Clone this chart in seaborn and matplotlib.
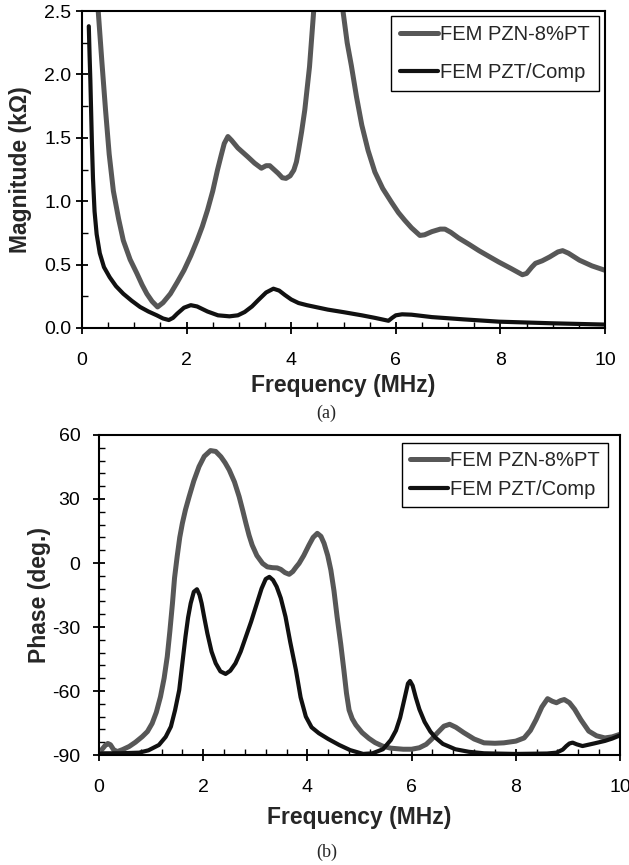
import numpy as np
import pandas as pd
import matplotlib
matplotlib.use("Agg")
import matplotlib.pyplot as plt
from matplotlib.ticker import MultipleLocator, FormatStrFormatter
import seaborn as sns

# ---------------- data: (a) impedance magnitude (kOhm) ----------------
mag_pzn_freq = [0.22, 0.31, 0.38, 0.45, 0.52, 0.60, 0.70, 0.79, 0.92, 1.05, 1.15, 1.24,
                1.34, 1.445, 1.55, 1.69, 1.82, 1.95, 2.08, 2.20, 2.30, 2.40, 2.50, 2.59,
                2.66, 2.72, 2.79, 2.86, 2.98, 3.17, 3.30, 3.43, 3.52, 3.59, 3.67, 3.75,
                3.83, 3.90, 3.98, 4.05, 4.10, 4.14, 4.20, 4.26, 4.35, 4.43, 4.60, 4.75,
                4.90, 4.99, 5.07, 5.15, 5.25, 5.35, 5.47, 5.60, 5.75, 5.92, 6.05, 6.17,
                6.30, 6.46, 6.55, 6.69, 6.85, 6.94, 7.05, 7.20, 7.40, 7.59, 7.80, 7.97,
                8.20, 8.42, 8.50, 8.60, 8.67, 8.80, 8.94, 9.10, 9.19, 9.30, 9.51, 9.75, 10.0]
mag_pzn = [3.40, 2.50, 2.10, 1.72, 1.37, 1.08, 0.86, 0.69, 0.54, 0.43, 0.34, 0.27,
           0.21, 0.166, 0.20, 0.27, 0.36, 0.455, 0.57, 0.69, 0.80, 0.93, 1.08, 1.245,
           1.36, 1.455, 1.51, 1.48, 1.42, 1.35, 1.30, 1.26, 1.28, 1.28, 1.25, 1.22,
           1.185, 1.18, 1.20, 1.245, 1.31, 1.40, 1.55, 1.72, 2.06, 2.50, 4.50, 8.00,
           3.60, 2.50, 2.25, 2.07, 1.82, 1.60, 1.40, 1.23, 1.10, 0.99, 0.91, 0.85,
           0.79, 0.73, 0.735, 0.76, 0.78, 0.78, 0.755, 0.71, 0.66, 0.61, 0.56, 0.52,
           0.47, 0.42, 0.43, 0.48, 0.51, 0.53, 0.56, 0.60, 0.61, 0.59, 0.535, 0.49, 0.455]

mag_pzt_freq = [0.13, 0.145, 0.16, 0.175, 0.19, 0.21, 0.24, 0.28, 0.34, 0.42, 0.53, 0.65,
                0.79, 0.95, 1.11, 1.27, 1.43, 1.55, 1.66, 1.74, 1.82, 1.95, 2.08, 2.20,
                2.40, 2.60, 2.82, 2.98, 3.11, 3.25, 3.37, 3.52, 3.66, 3.77, 3.88, 4.00,
                4.14, 4.30, 4.46, 4.70, 5.00, 5.35, 5.60, 5.86, 5.93, 6.00, 6.12, 6.30,
                6.69, 7.30, 7.97, 9.00, 10.0]
mag_pzt = [2.38, 2.15, 1.95, 1.70, 1.45, 1.18, 0.92, 0.74, 0.59, 0.48, 0.40, 0.33,
           0.27, 0.215, 0.166, 0.13, 0.10, 0.075, 0.063, 0.08, 0.113, 0.16, 0.18, 0.17,
           0.13, 0.10, 0.092, 0.10, 0.126, 0.17, 0.22, 0.28, 0.31, 0.295, 0.26, 0.225,
           0.197, 0.18, 0.166, 0.145, 0.125, 0.10, 0.08, 0.057, 0.08, 0.10, 0.108, 0.105,
           0.086, 0.068, 0.05, 0.037, 0.027]

# ---------------- data: (b) phase (deg.) ----------------
ph_pzn_freq = [0.06, 0.12, 0.17, 0.22, 0.28, 0.35, 0.45, 0.58, 0.70, 0.83, 0.93, 1.02,
               1.10, 1.18, 1.25, 1.31, 1.36, 1.41, 1.45, 1.50, 1.55, 1.60, 1.66, 1.73,
               1.82, 1.92, 2.02, 2.14, 2.24, 2.34, 2.42, 2.50, 2.60, 2.69, 2.76, 2.82,
               2.88, 2.94, 3.03, 3.14, 3.23, 3.33, 3.42, 3.49, 3.57, 3.65, 3.72, 3.78,
               3.84, 3.93, 4.03, 4.11, 4.19, 4.26, 4.32, 4.39, 4.45, 4.51, 4.57, 4.64,
               4.70, 4.75, 4.80, 4.86, 4.93, 5.05, 5.18, 5.30, 5.44, 5.60, 5.84, 6.00,
               6.15, 6.28, 6.38, 6.50, 6.62, 6.73, 6.85, 7.00, 7.20, 7.39, 7.60, 7.77,
               8.00, 8.16, 8.28, 8.39, 8.50, 8.61, 8.70, 8.78, 8.86, 8.93, 9.03, 9.13,
               9.25, 9.40, 9.55, 9.71, 9.85, 10.0]
ph_pzn = [-87.3, -85.5, -84.6, -85.2, -87.5, -88.4, -87.5, -86.0, -84.0, -81.4, -79.0, -75.2,
          -70.0, -62.7, -54.0, -43.9, -32.0, -18.9, -7.0, 3.0, 12.0, 18.6, 25.0, 31.1,
          38.5, 45.2, 50.0, 52.7, 52.3, 49.8, 47.0, 43.6, 38.0, 31.1, 24.5, 18.6,
          13.0, 8.4, 3.5, -0.2, -1.8, -2.2, -2.3, -3.0, -4.5, -5.3, -4.0, -2.0,
          -0.2, 3.5, 8.4, 12.0, 13.9, 12.5, 9.2, 3.5, -3.3, -13.0, -25.2, -38.0,
          -50.2, -61.0, -68.9, -73.0, -75.9, -79.5, -82.2, -84.2, -85.8, -86.8, -87.3, -87.3,
          -86.6, -85.0, -82.7, -79.5, -76.5, -75.6, -77.0, -79.5, -82.5, -84.3, -84.5, -84.3,
          -83.5, -82.0, -78.5, -73.4, -67.5, -63.6, -64.8, -65.5, -64.5, -64.0, -65.5, -68.6,
          -73.5, -78.8, -81.0, -82.0, -81.5, -80.3]

ph_pzt_freq = [0.0, 0.40, 0.77, 0.95, 1.15, 1.28, 1.38, 1.46, 1.54, 1.60, 1.66, 1.71,
               1.76, 1.82, 1.88, 1.93, 1.97, 2.02, 2.08, 2.16, 2.24, 2.33, 2.43, 2.52,
               2.62, 2.72, 2.82, 2.92, 3.01, 3.12, 3.20, 3.27, 3.34, 3.41, 3.49, 3.58,
               3.67, 3.78, 3.87, 3.97, 4.08, 4.22, 4.40, 4.61, 4.82, 5.07, 5.25, 5.45,
               5.60, 5.70, 5.78, 5.86, 5.93, 5.97, 6.02, 6.08, 6.15, 6.25, 6.36, 6.46,
               6.60, 6.84, 7.10, 7.39, 8.00, 8.60, 8.78, 8.90, 8.97, 9.03, 9.09, 9.17,
               9.28, 9.50, 9.71, 9.85, 10.0]
ph_pzt = [-89.2, -89.2, -88.9, -87.8, -85.3, -81.5, -76.7, -69.0, -59.5, -47.0, -34.5, -25.5,
          -18.9, -13.5, -12.3, -15.0, -18.9, -25.5, -33.0, -41.5, -47.0, -50.8, -52.0, -50.5,
          -47.0, -41.5, -34.5, -27.5, -20.5, -12.0, -7.5, -6.5, -8.0, -11.1, -16.5, -25.2,
          -37.0, -50.2, -63.0, -72.0, -77.0, -79.8, -82.5, -85.3, -87.7, -89.5, -89.2, -87.3,
          -83.0, -78.5, -72.5, -64.0, -56.5, -55.3, -57.5, -63.0, -68.6, -74.5, -79.0, -81.9,
          -84.8, -87.3, -88.5, -89.2, -89.5, -89.3, -88.9, -87.5, -85.8, -84.6, -84.2, -85.0,
          -85.8, -84.6, -83.4, -82.3, -80.8]

label_pzn = "FEM PZN-8%PT"
label_pzt = "FEM PZT/Comp"

# ---------------- style ----------------
sns.set_theme(style="ticks")
plt.rcParams["font.family"] = ["Liberation Sans", "DejaVu Sans"]
plt.rcParams["axes.linewidth"] = 1.5
plt.rcParams["axes.edgecolor"] = "black"
plt.rcParams["axes.unicode_minus"] = False
plt.rcParams["lines.solid_joinstyle"] = "round"
plt.rcParams["lines.solid_capstyle"] = "round"

GRAY = "#575757"
BLACK = "#111111"

W, H = 629, 865
fig = plt.figure(figsize=(W / 100, H / 100), dpi=100)
fig.patch.set_facecolor("white")

def px_axes(l, t, r, b):
    return fig.add_axes([l / W, 1 - b / H, (r - l) / W, (b - t) / H])

ax1 = px_axes(82, 11, 605, 328)
ax2 = px_axes(99, 435, 620, 755)

def style_axis(ax, xminor, ymin_step, ylabpad):
    for s in ax.spines.values():
        s.set_visible(True)
        s.set_color("black")
        s.set_linewidth(1.5)
    ax.xaxis.set_major_locator(MultipleLocator(2))
    ax.xaxis.set_minor_locator(MultipleLocator(xminor))
    ax.yaxis.set_minor_locator(MultipleLocator(ymin_step))
    ax.tick_params(which="major", direction="inout", length=9, width=1.3,
                   colors="black", labelsize=14, top=False, right=False)
    ax.tick_params(axis="x", which="major", pad=13)
    ax.tick_params(axis="y", which="major", pad=ylabpad)
    ax.tick_params(which="minor", direction="in", length=4, width=1.0,
                   colors="black", top=False, right=False)
    ax.set_facecolor("white")
    ax.grid(False)

# ---------------- (a) ----------------
sns.lineplot(x=mag_pzn_freq, y=mag_pzn, ax=ax1, color=GRAY, linewidth=3.6,
             label=label_pzn, sort=False, estimator=None)
sns.lineplot(x=mag_pzt_freq, y=mag_pzt, ax=ax1, color=BLACK, linewidth=3.0,
             label=label_pzt, sort=False, estimator=None)
ax1.set_xlim(0, 10)
ax1.set_ylim(0, 2.5)
ax1.yaxis.set_major_locator(MultipleLocator(0.5))
ax1.yaxis.set_major_formatter(FormatStrFormatter("%.1f"))
style_axis(ax1, 0.5, 0.25, 3)
ax1.set_xlabel("Frequency (MHz)", fontsize=16.5, fontweight="bold")
ax1.set_ylabel("Magnitude (k\u03a9)", fontsize=16.5, fontweight="bold")
ax1.xaxis.label.set_va("center")
ax1.yaxis.label.set_va("center")
ax1.xaxis.set_label_coords(0.5, -0.18)
ax1.yaxis.set_label_coords(-0.118, 0.5)
leg1 = ax1.legend(loc="upper right", bbox_to_anchor=(0.9885, 0.984), borderaxespad=0,
                  fontsize=14.5, frameon=True, fancybox=False, edgecolor="black",
                  framealpha=1, handlelength=1.9, handletextpad=0.1,
                  labelspacing=0.95, borderpad=0.45)
leg1.get_frame().set_linewidth(1.0)

# ---------------- (b) ----------------
sns.lineplot(x=ph_pzn_freq, y=ph_pzn, ax=ax2, color=GRAY, linewidth=3.6,
             label=label_pzn, sort=False, estimator=None)
sns.lineplot(x=ph_pzt_freq, y=ph_pzt, ax=ax2, color=BLACK, linewidth=3.0,
             label=label_pzt, sort=False, estimator=None)
ax2.set_xlim(0, 10)
ax2.set_ylim(-90, 60)
ax2.yaxis.set_major_locator(MultipleLocator(30))
style_axis(ax2, 0.4, 6, 9)
ax2.set_xlabel("Frequency (MHz)", fontsize=16.5, fontweight="bold")
ax2.set_ylabel("Phase (deg.)", fontsize=16.5, fontweight="bold")
ax2.xaxis.label.set_va("center")
ax2.yaxis.label.set_va("center")
ax2.xaxis.set_label_coords(0.5, -0.194)
ax2.yaxis.set_label_coords(-0.115, 0.5)
leg2 = ax2.legend(loc="upper right", bbox_to_anchor=(0.977, 0.975), borderaxespad=0,
                  fontsize=14.5, frameon=True, fancybox=False, edgecolor="black",
                  framealpha=1, handlelength=1.9, handletextpad=0.1,
                  labelspacing=0.5, borderpad=0.4)
leg2.get_frame().set_linewidth(1.0)

# captions
fig.text(326 / W, 1 - 413 / H, "(a)", ha="center", va="center", fontsize=13,
         family=["Liberation Serif", "DejaVu Serif"])
fig.text(327 / W, 1 - 852 / H, "(b)", ha="center", va="center", fontsize=13,
         family=["Liberation Serif", "DejaVu Serif"])

fig.savefig("out.png", dpi=100, facecolor="white")
